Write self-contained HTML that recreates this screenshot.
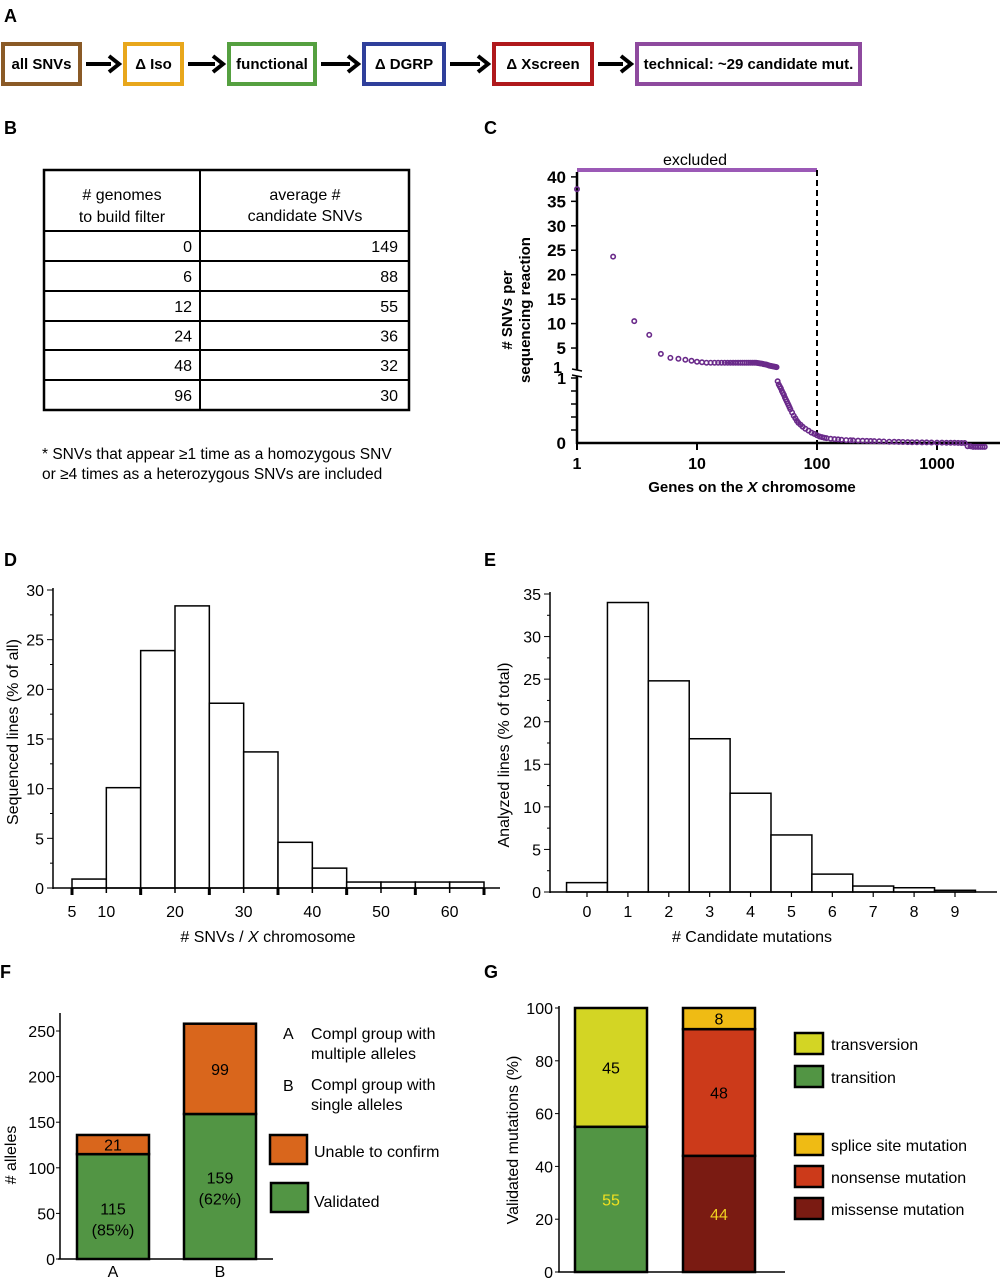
<!DOCTYPE html>
<html><head><meta charset="utf-8"><style>
html,body{margin:0;padding:0;background:#fff;}
svg{display:block;font-family:"Liberation Sans",Arial,sans-serif;}
</style></head><body>
<svg id="fig" width="1000" height="1280" viewBox="0 0 1000 1280" xmlns="http://www.w3.org/2000/svg">
<g font-weight="bold" font-size="18">
<text x="4" y="22">A</text><text x="4" y="134">B</text><text x="484" y="134">C</text>
<text x="4" y="566">D</text><text x="484" y="566">E</text><text x="0" y="978">F</text><text x="484" y="978">G</text>
</g>
<g id="flow" font-size="15" font-weight="600"></g>
<g id="table" font-size="16"></g>
<text x="42" y="459" font-size="15.5">* SNVs that appear ≥1 time as a homozygous SNV</text>
<text x="42" y="479" font-size="15.5">or ≥4 times as a heterozygous SNVs are included</text>
<g id="panelC"></g>
<g id="panelD"></g>
<g id="panelE"></g>
<g id="panelF"></g>
<g id="panelG"></g>
</svg>
<script>
// ---------- data ----------
const flowLabels = ["all SNVs","Δ Iso","functional","Δ DGRP","Δ Xscreen","technical: ~29 candidate mut."];
const tableGenomes = ["0","6","12","24","48","96"];
const tableSNVs = ["149","88","55","36","32","30"];

const cRanks = [1,2,3,4,5,6,7,8,9,10,11,12,13,14,15,16,17,18,19,20,21,22,23,24,25,26,27,28,29,30,31,32,33,34,35,36,37,38,39,40,41,42,43,44,45,46,47,48,49,50,51,52,53,54,55,56,57,58,59,60,62,64,66,68,70,73,76,80,85,90,95,100,105,110,115,120,130,140,150,160,175,190,200,220,240,260,280,300,330,360,400,440,480,520,570,620,680,750,820,900,1000,1100,1200,1300,1400,1500,1600,1700,1800,1900,2000,2100,2200,2300,2400,2500];
const cValues = [37.5,23.7,10.5,7.7,3.8,3.0,2.8,2.6,2.4,2.2,2.1,2.0,2.0,2.0,2.0,2.0,2.0,2.0,2.0,2.0,2.0,2.0,2.0,2.0,2.0,2.0,2.0,2.0,2.0,2.0,2.0,1.95,1.9,1.85,1.8,1.7,1.65,1.6,1.5,1.4,1.35,1.3,1.25,1.2,1.15,1.1,0.95,0.9,0.87,0.84,0.8,0.77,0.74,0.7,0.67,0.64,0.61,0.58,0.55,0.52,0.47,0.42,0.38,0.34,0.31,0.28,0.25,0.22,0.19,0.16,0.14,0.12,0.1,0.09,0.08,0.075,0.065,0.06,0.055,0.05,0.045,0.042,0.04,0.037,0.035,0.033,0.03,0.028,0.026,0.024,0.02,0.019,0.017,0.016,0.014,0.012,0.011,0.01,0.009,0.008,0.006,0.005,0.004,0.003,0.003,0.002,0.0,0.0,-0.05,-0.05,-0.06,-0.06,-0.06,-0.06,-0.06,-0.06];
const cUpperTicks = [40,35,30,25,20,15,10,5];
const cXTicks = [1,10,100,1000];

const dBinStarts = [5,10,15,20,25,30,35,40,45,50,55,60];
const dValues = [0.9,10.1,23.9,28.4,18.6,13.7,4.6,2.0,0.6,0.6,0.6,0.6];
const dXLabels = [5,10,20,30,40,50,60];
const dYLabels = [0,5,10,15,20,25,30];

const eCats = [0,1,2,3,4,5,6,7,8,9];
const eValues = [1.1,34,24.8,18,11.6,6.7,2.1,0.7,0.5,0.2];
const eYLabels = [0,5,10,15,20,25,30,35];

const fCats = ["A","B"];
const fValidated = [115,159];
const fUnable = [21,99];
const fValidatedLabels = ["115","159"];
const fPctLabels = ["(85%)","(62%)"];
const fYLabels = [0,50,100,150,200,250];

const gTransition = [55];
const gTransversion = [45];
const gMissense = [44];
const gNonsense = [48];
const gSplice = [8];
const gYLabels = [0,20,40,60,80,100];

// ---------- helpers ----------
const NS = "http://www.w3.org/2000/svg";
function mk(parent, tag, attrs, text){
  const e = document.createElementNS(NS, tag);
  for (const k in attrs) e.setAttribute(k, attrs[k]);
  if (text !== undefined) e.textContent = text;
  parent.appendChild(e);
  return e;
}

// ---------- Panel A ----------
(function(){
  const g = document.getElementById('flow');
  const boxes = [[3,44,77,40,'#8a5a26'],[125,44,57,40,'#e8a71c'],[229,44,86,40,'#55a040'],[364,44,80,40,'#2f3f9b'],[494,44,98,40,'#b0191c'],[637,44,223,40,'#8e4a9e']];
  boxes.forEach((b,i)=>{
    const r = mk(g,'rect',{x:b[0],y:b[1],width:b[2],height:b[3],fill:'#fff',stroke:b[4],'stroke-width':4});
    
    
    const t = mk(g,'text',{x:b[0]+b[2]/2,y:b[1]+25,'text-anchor':'middle'},flowLabels[i]);
    
    
    if(i<boxes.length-1){
      const x1=b[0]+b[2]+6, x2=boxes[i+1][0]-6;
      const a = mk(g,'path',{d:`M${x1},64 L${x2-8},64 M${x2-10},56 L${x2},64 L${x2-10},72`,stroke:'#000','stroke-width':4,fill:'none'});
      
      
    }
  });
})();

// ---------- Panel B ----------
(function(){
  const g = document.getElementById('table');
  mk(g,'rect',{x:44,y:170,width:365,height:240,fill:'none',stroke:'#000','stroke-width':2.5});
  mk(g,'line',{x1:200,y1:170,x2:200,y2:410,stroke:'#000','stroke-width':2});
  const rows=[231,261,291,321,350,380];
  rows.forEach(y=>mk(g,'line',{x1:44,y1:y,x2:409,y2:y,stroke:'#000','stroke-width':2}));
  mk(g,'text',{x:122,y:200,'text-anchor':'middle'},'# genomes');
  mk(g,'text',{x:122,y:222,'text-anchor':'middle'},'to build filter');
  mk(g,'text',{x:305,y:200,'text-anchor':'middle'},'average #');
  mk(g,'text',{x:305,y:221,'text-anchor':'middle'},'candidate SNVs');
  const bounds=[231,261,291,321,350,380,410];
  tableGenomes.forEach((v,i)=>{
    const y=(bounds[i]+bounds[i+1])/2+6;
    const t1=mk(g,'text',{x:192,y:y,'text-anchor':'end'},v);
    
    
    const t2=mk(g,'text',{x:398,y:y,'text-anchor':'end'},tableSNVs[i]);
    
    
  });
})();

// ---------- Panel C ----------
(function(){
  const g = document.getElementById('panelC');
  const X0=577, perDec=120;
  const xs = r => X0 + Math.log10(r)*perDec;
  const ys = v => v>1 ? 367.6-(v-1)*4.89 : 443 - v*65;
  mk(g,'line',{x1:577,y1:170,x2:817,y2:170,stroke:'#9b59b6','stroke-width':4});
  mk(g,'text',{x:695,y:165,'text-anchor':'middle','font-size':16},'excluded');
  mk(g,'line',{x1:817,y1:170,x2:817,y2:443,stroke:'#000','stroke-width':2,'stroke-dasharray':'6,4'});
  mk(g,'line',{x1:577,y1:172,x2:577,y2:370,stroke:'#000','stroke-width':2.5});
  mk(g,'line',{x1:577,y1:376,x2:577,y2:444,stroke:'#000','stroke-width':2.5});
  mk(g,'line',{x1:572,y1:369,x2:582,y2:371,stroke:'#000','stroke-width':1.5});
  mk(g,'line',{x1:572,y1:375,x2:582,y2:377,stroke:'#000','stroke-width':1.5});
  mk(g,'line',{x1:576,y1:443,x2:1000,y2:443,stroke:'#000','stroke-width':2.5});
  cUpperTicks.forEach(v=>{
    const y=ys(v);
    mk(g,'line',{x1:571,y1:y,x2:577,y2:y,stroke:'#000','stroke-width':1.5});
    mk(g,'text',{x:566,y:y+6,'text-anchor':'end','font-size':17,'font-weight':'bold'},String(v));
  });
  mk(g,'text',{x:562,y:373,'text-anchor':'end','font-size':16,'font-weight':'bold'},'1');
  mk(g,'text',{x:566,y:384,'text-anchor':'end','font-size':16,'font-weight':'bold'},'1');
  mk(g,'text',{x:566,y:449,'text-anchor':'end','font-size':17,'font-weight':'bold'},'0');
  [0.2,0.4,0.6,0.8,1].forEach(v=>mk(g,'line',{x1:571,y1:ys(v),x2:577,y2:ys(v),stroke:'#000','stroke-width':1.5}));
  cXTicks.forEach(v=>{
    const x=xs(v);
    mk(g,'line',{x1:x,y1:443,x2:x,y2:450,stroke:'#000','stroke-width':2});
    mk(g,'text',{x:x,y:469,'text-anchor':'middle','font-size':16,'font-weight':'bold'},String(v));
  });
  const tx=mk(g,'text',{x:752,y:492,'text-anchor':'middle','font-size':15,'font-weight':'bold'},'');
  tx.innerHTML='Genes on the <tspan font-style="italic">X</tspan> chromosome';
  
  const yt=mk(g,'text',{transform:'translate(512,310) rotate(-90)','text-anchor':'middle','font-size':15,'font-weight':'bold'},'');
  yt.innerHTML='<tspan x="0" dy="0"># SNVs per</tspan><tspan x="0" dy="18">sequencing reaction</tspan>';
  
  cRanks.forEach((r,i)=>{
    const c=mk(g,'circle',{cx:xs(r),cy:ys(cValues[i]),r:2.2,fill:'none',stroke:'#6a2a8a','stroke-width':1.6});
    
    
  });
})();

// ---------- Panel D ----------
(function(){
  const g=document.getElementById('panelD');
  const ax=53, y0=888, py=298/30, x5=72, px=412/60;
  const xs=v=>x5+(v-5)*px, ys=v=>y0-v*py;
  dBinStarts.forEach((s,i)=>{
    const r=mk(g,'rect',{x:xs(s),y:ys(dValues[i]),width:5*px,height:dValues[i]*py,fill:'#fff',stroke:'#000','stroke-width':1.5});
    
    
  });
  mk(g,'line',{x1:ax,y1:588,x2:ax,y2:889,stroke:'#000','stroke-width':1.5});
  mk(g,'line',{x1:ax,y1:y0,x2:500,y2:y0,stroke:'#000','stroke-width':1.5});
  for(let v=0;v<=30;v+=2.5) mk(g,'line',{x1:ax-(v%5==0?6:3),y1:ys(v),x2:ax,y2:ys(v),stroke:'#000','stroke-width':1});
  dYLabels.forEach(v=>mk(g,'text',{x:44,y:ys(v)+6,'text-anchor':'end','font-size':16},String(v)));
  for(let v=5;v<=65;v+=5) mk(g,'line',{x1:xs(v),y1:y0,x2:xs(v),y2:y0+(v%10==5?7:5),stroke:'#000','stroke-width':(v%10==5?3:1.5)});
  dXLabels.forEach(v=>mk(g,'text',{x:xs(v),y:917,'text-anchor':'middle','font-size':16},String(v)));
  const t=mk(g,'text',{x:268,y:942,'text-anchor':'middle','font-size':16},'');
  t.innerHTML='# SNVs / <tspan font-style="italic">X</tspan> chromosome';
  
  mk(g,'text',{transform:'translate(18,732) rotate(-90)','text-anchor':'middle','font-size':16},'Sequenced lines (% of all)');
})();

// ---------- Panel E ----------
(function(){
  const g=document.getElementById('panelE');
  const ax=550, y0=892, py=298/35, x0=587, px=368/9;
  const xs=v=>x0+v*px, ys=v=>y0-v*py;
  eCats.forEach((c,i)=>{
    const r=mk(g,'rect',{x:xs(c-0.5),y:ys(eValues[i]),width:px,height:eValues[i]*py,fill:'#fff',stroke:'#000','stroke-width':1.5});
    
    
  });
  mk(g,'line',{x1:ax,y1:592,x2:ax,y2:893,stroke:'#000','stroke-width':1.5});
  mk(g,'line',{x1:ax,y1:y0,x2:997,y2:y0,stroke:'#000','stroke-width':1.5});
  for(let v=0;v<=35;v+=2.5) mk(g,'line',{x1:ax-(v%5==0?6:3),y1:ys(v),x2:ax,y2:ys(v),stroke:'#000','stroke-width':1});
  eYLabels.forEach(v=>mk(g,'text',{x:541,y:ys(v)+6,'text-anchor':'end','font-size':16},String(v)));
  eCats.forEach(c=>{
    mk(g,'line',{x1:xs(c),y1:y0,x2:xs(c),y2:y0+5,stroke:'#000','stroke-width':1.2});
    mk(g,'text',{x:xs(c),y:917,'text-anchor':'middle','font-size':16},String(c));
  });
  mk(g,'text',{x:752,y:942,'text-anchor':'middle','font-size':16},'# Candidate mutations');
  mk(g,'text',{transform:'translate(509,755) rotate(-90)','text-anchor':'middle','font-size':16},'Analyzed lines (% of total)');
})();

// ---------- Panel F ----------
(function(){
  const g=document.getElementById('panelF');
  const ax=60, y0=1259, py=228/250;
  const ys=v=>y0-v*py;
  const bx=[77,184], bw=72;
  fCats.forEach((c,i)=>{
    const v=fValidated[i], u=fUnable[i];
    const r1=mk(g,'rect',{x:bx[i],y:ys(v),width:bw,height:v*py,fill:'#529544',stroke:'#000','stroke-width':2.5});
    
    
    const r2=mk(g,'rect',{x:bx[i],y:ys(v+u),width:bw,height:u*py,fill:'#d9661c',stroke:'#000','stroke-width':2.5});
    
    
    const cx=bx[i]+bw/2, mid=(ys(v)+y0)/2;
    mk(g,'text',{x:cx,y:mid+(i==0?8:-3),'text-anchor':'middle','font-size':16},fValidatedLabels[i]);
    mk(g,'text',{x:cx,y:mid+(i==0?29:18),'text-anchor':'middle','font-size':16},fPctLabels[i]);
    mk(g,'text',{x:cx,y:(ys(v)+ys(v+u))/2+6,'text-anchor':'middle','font-size':16},String(u));
    mk(g,'text',{x:cx,y:1277,'text-anchor':'middle','font-size':16},c);
  });
  mk(g,'line',{x1:ax,y1:1013,x2:ax,y2:y0,stroke:'#000','stroke-width':1.5});
  mk(g,'line',{x1:58,y1:y0,x2:273,y2:y0,stroke:'#000','stroke-width':1.5});
  fYLabels.forEach(v=>{
    mk(g,'line',{x1:ax-4,y1:ys(v),x2:ax,y2:ys(v),stroke:'#000','stroke-width':1});
    mk(g,'text',{x:55,y:ys(v)+6,'text-anchor':'end','font-size':16},String(v));
  });
  mk(g,'text',{transform:'translate(16,1155) rotate(-90)','text-anchor':'middle','font-size':16},'# alleles');
  mk(g,'text',{x:283,y:1039,'font-size':16},'A');
  mk(g,'text',{x:311,y:1039,'font-size':16},'Compl group with');
  mk(g,'text',{x:311,y:1059,'font-size':16},'multiple alleles');
  mk(g,'text',{x:283,y:1091,'font-size':16},'B');
  mk(g,'text',{x:311,y:1090,'font-size':16},'Compl group with');
  mk(g,'text',{x:311,y:1110,'font-size':16},'single alleles');
  mk(g,'rect',{x:270,y:1135,width:37,height:29,fill:'#d9661c',stroke:'#000','stroke-width':2.5});
  mk(g,'text',{x:314,y:1157,'font-size':16},'Unable to confirm');
  mk(g,'rect',{x:271,y:1183,width:37,height:29,fill:'#529544',stroke:'#000','stroke-width':2.5});
  mk(g,'text',{x:314,y:1207,'font-size':16},'Validated');
})();

// ---------- Panel G ----------
(function(){
  const g=document.getElementById('panelG');
  const ax=559, y0=1272, py=264/100;
  const ys=v=>y0-v*py;
  const segs1=[[gTransition[0],'#529544','#f0e020'],[gTransversion[0],'#d3d524','#000']];
  const segs2=[[gMissense[0],'#7a1b12','#f0d020'],[gNonsense[0],'#cc3a1a','#000'],[gSplice[0],'#efbb14','#000']];
  [[575,segs1],[683,segs2]].forEach(([bx,segs])=>{
    let acc=0;
    segs.forEach(s=>{
      const r=mk(g,'rect',{x:bx,y:ys(acc+s[0]),width:72,height:s[0]*py,fill:s[1],stroke:'#000','stroke-width':2.5});
      
      
      mk(g,'text',{x:bx+36,y:(ys(acc)+ys(acc+s[0]))/2+6,'text-anchor':'middle','font-size':16,fill:s[2]},String(s[0]));
      acc+=s[0];
    });
  });
  mk(g,'line',{x1:ax,y1:1006,x2:ax,y2:y0,stroke:'#000','stroke-width':1.5});
  mk(g,'line',{x1:558,y1:y0,x2:785,y2:y0,stroke:'#000','stroke-width':1.5});
  gYLabels.forEach(v=>{
    mk(g,'line',{x1:ax-4,y1:ys(v),x2:ax,y2:ys(v),stroke:'#000','stroke-width':1});
    mk(g,'text',{x:553,y:ys(v)+6,'text-anchor':'end','font-size':16},String(v));
  });
  mk(g,'text',{transform:'translate(518,1140) rotate(-90)','text-anchor':'middle','font-size':16},'Validated mutations (%)');
  const leg=[[1033,'#d3d524','transversion'],[1066,'#529544','transition'],[1134,'#efbb14','splice site mutation'],[1166,'#cc3a1a','nonsense mutation'],[1198,'#7a1b12','missense mutation']];
  leg.forEach(l=>{
    const r=mk(g,'rect',{x:795,y:l[0],width:28,height:21,fill:l[1],stroke:'#000','stroke-width':2.5});
    
    
    mk(g,'text',{x:831,y:l[0]+17,'font-size':16},l[2]);
  });
})();
</script>
</body></html>
